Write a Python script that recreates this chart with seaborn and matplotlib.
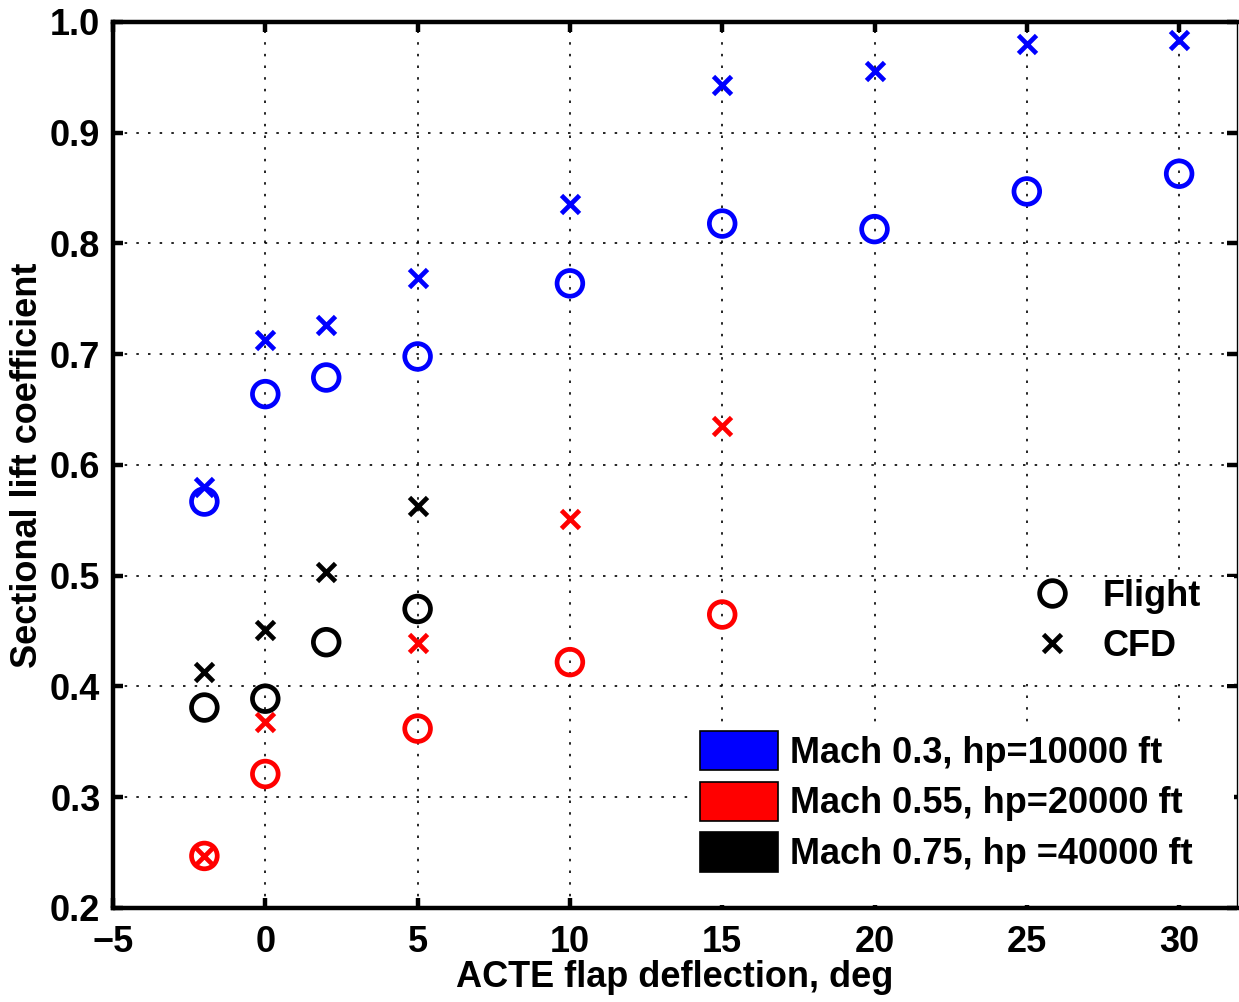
import matplotlib
matplotlib.use("Agg")
import matplotlib.pyplot as plt
import seaborn as sns
import pandas as pd
from matplotlib.patches import Patch, Rectangle
from matplotlib.lines import Line2D

# ---- data ----
x_m03 = [-2, 0, 2, 5, 10, 15, 20, 25, 30]
flight_m03 = [0.567, 0.664, 0.679, 0.698, 0.764, 0.818, 0.813, 0.847, 0.863]
cfd_m03 = [0.580, 0.713, 0.726, 0.769, 0.836, 0.943, 0.956, 0.980, 0.984]

x_m055 = [-2, 0, 5, 10, 15]
flight_m055 = [0.247, 0.321, 0.362, 0.422, 0.465]
cfd_m055 = [0.247, 0.368, 0.439, 0.551, 0.635]

x_m075 = [-2, 0, 2, 5]
flight_m075 = [0.381, 0.389, 0.440, 0.470]
cfd_m075 = [0.413, 0.451, 0.503, 0.563]

series_labels = ["Mach 0.3, hp=10000 ft", "Mach 0.55, hp=20000 ft", "Mach 0.75, hp =40000 ft"]
series_colors = ["#0000ff", "#ff0000", "#000000"]
x_ticks = [-5, 0, 5, 10, 15, 20, 25, 30]
y_ticks = [0.2, 0.3, 0.4, 0.5, 0.6, 0.7, 0.8, 0.9, 1.0]

sns.set_theme(style="white")
plt.rcParams["font.family"] = ["Liberation Sans", "DejaVu Sans"]
plt.rcParams["font.weight"] = "bold"
for k in ["text.color", "axes.labelcolor", "xtick.color", "ytick.color", "axes.edgecolor"]:
    plt.rcParams[k] = "black"

W, H = 1239, 1002
fig = plt.figure(figsize=(W / 100, H / 100), dpi=100)
ax = fig.add_axes([113 / W, 1 - 908 / H, (1237 - 113) / W, (908 - 22) / H])

xs = [x_m03, x_m055, x_m075]
fl = [flight_m03, flight_m055, flight_m075]
cf = [cfd_m03, cfd_m055, cfd_m075]

for xv, fv, cv, col in zip(xs, fl, cf, series_colors):
    df = pd.DataFrame({"x": xv, "flight": fv, "cfd": cv})
    sns.scatterplot(data=df, x="x", y="flight", ax=ax, marker="o", s=18.5 ** 2,
                    color=col, facecolor="none", edgecolor=col, linewidth=3.4, zorder=3)
    sns.scatterplot(data=df, x="x", y="cfd", ax=ax, marker="x", s=13 ** 2,
                    color=col, linewidth=3.4, zorder=3)

ax.set_xlim(-5, 31.9)
ax.set_ylim(0.2, 1.0)
ax.set_xticks(x_ticks)
ax.set_yticks(y_ticks)
ax.set_xticklabels([("\u2212" + str(abs(t))) if t < 0 else str(t) for t in x_ticks])
ax.set_yticklabels([f"{t:.1f}" for t in y_ticks])

ax.grid(True, color="black", linestyle=(0, (1.5, 5.5)), linewidth=1.2)
ax.set_axisbelow(True)
for s in ["left", "bottom", "top"]:
    ax.spines[s].set_linewidth(3.2)
ax.spines["right"].set_linewidth(1.0)

ax.tick_params(axis="both", which="both", direction="in", length=7, width=3.2,
               labelsize=26, top=True, right=True, bottom=True, left=True)
ax.tick_params(axis="x", pad=12)
ax.tick_params(axis="y", pad=9)
for lab in ax.get_xticklabels() + ax.get_yticklabels():
    lab.set_fontweight("bold")

ax.set_xlabel("ACTE flap deflection, deg", fontsize=26, fontweight="bold", labelpad=0)
ax.set_ylabel("Sectional lift coefficient", fontsize=26, fontweight="bold", labelpad=4)

# white areas behind legends (hide grid like the original)
ax.add_patch(Rectangle((694 / W, 1 - 905 / H), (1234 - 694) / W, (905 - 722) / H,
                       transform=fig.transFigure, facecolor="white", edgecolor="none",
                       zorder=1.5))
ax.add_patch(Rectangle((990 / W, 1 - 684 / H), (1234 - 990) / W, (684 - 577) / H,
                       transform=fig.transFigure, facecolor="white", edgecolor="none",
                       zorder=1.5))

# legend: Flight / CFD
fs = 26
h1 = [Line2D([], [], linestyle="", marker="o", markersize=18.5, markerfacecolor="none",
             markeredgecolor="black", markeredgewidth=3.4),
      Line2D([], [], linestyle="", marker="x", markersize=13, color="black",
             markeredgewidth=3.4)]
leg1 = ax.legend(h1, ["Flight", "CFD"], loc="upper left",
                 bbox_to_anchor=(1027 / W, 1 - 579 / H), bbox_transform=fig.transFigure,
                 frameon=False, prop={"size": fs, "weight": "bold"},
                 handlelength=1.4, handletextpad=0.7, labelspacing=0.41,
                 borderpad=0, borderaxespad=0)
leg1.set_zorder(5)
ax.add_artist(leg1)

# legend: conditions
h2 = [Patch(facecolor=c, edgecolor="black", linewidth=1.2) for c in series_colors]
leg2 = ax.legend(h2, series_labels, loc="upper left",
                 bbox_to_anchor=(700 / W, 1 - 731 / H), bbox_transform=fig.transFigure,
                 frameon=False, prop={"size": fs, "weight": "bold"},
                 handlelength=2.16, handleheight=1.3, handletextpad=0.33, labelspacing=0.3,
                 borderpad=0, borderaxespad=0)
leg2.set_zorder(5)

fig.savefig("out.png", dpi=100)
